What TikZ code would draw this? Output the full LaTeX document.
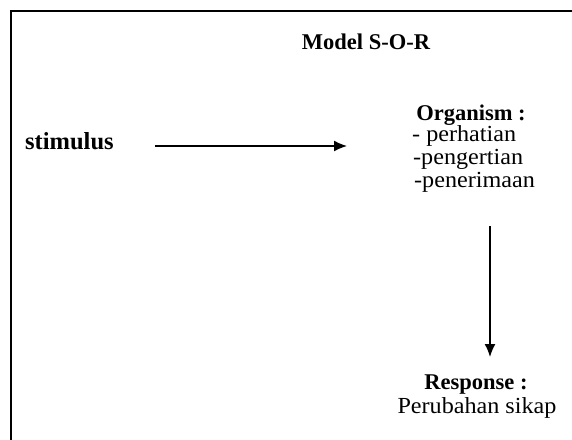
\documentclass[tikz,border=0pt]{standalone}
\usepackage{fontspec}
\setmainfont{Liberation Serif}
\newfontfamily\wideserif[FakeStretch=1.05]{Liberation Serif}
\usetikzlibrary{arrows.meta}
\tikzset{
  boldtxt/.style={font=\fontsize{22.5}{24}\selectfont\bfseries, inner sep=0pt, anchor=base},
  listtxt/.style={font=\wideserif\fontsize{23}{24}\selectfont, inner sep=0pt, anchor=base west},
  plaintxt/.style={font=\wideserif\fontsize{23}{24}\selectfont, inner sep=0pt, anchor=base},
  conn/.style={line width=1.5pt, -{Latex[length=13pt,width=11pt]}},
  frame/.style={line width=2pt}
}
\begin{document}
\begin{tikzpicture}[x=1pt,y=-1pt]
\useasboundingbox (0,0) rectangle (572,439);
\draw[frame] (11,440) -- (11,11) -- (573,11);
\node[boldtxt] (title) at (366,49) {Model S-O-R};
\node[boldtxt, font=\fontsize{24.5}{26}\selectfont\bfseries, anchor=base west] (stim) at (25,149) {stimulus};
\node[boldtxt] (org) at (471,120) {Organism :};
\node[listtxt] (p1) at (412,141) {- perhatian};
\node[listtxt] (p2) at (413,164) {-pengertian};
\node[listtxt] (p3) at (414,187) {-penerimaan};
\node[boldtxt] (resp) at (476,389) {Response :};
\node[plaintxt] (perub) at (477,413) {Perubahan sikap};
\coordinate (hs) at (155,146);
\coordinate (he) at (347,146);
\coordinate (vs) at (490,226);
\coordinate (ve) at (490,357);
\draw[conn] (hs) -- (he);
\draw[conn] (vs) -- (ve);
\end{tikzpicture}
\end{document}
